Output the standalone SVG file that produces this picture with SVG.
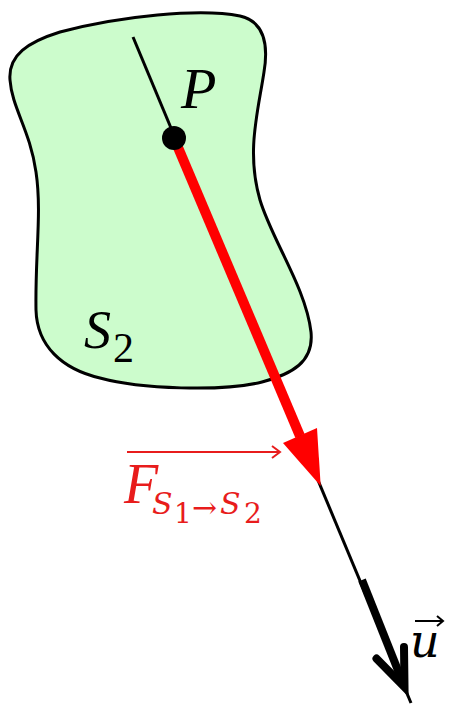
<svg xmlns="http://www.w3.org/2000/svg" width="474" height="714" viewBox="0 0 474 714">
<style>
.it{font-family:"Liberation Serif","DejaVu Serif",serif;font-style:italic}
.up{font-family:"Liberation Serif","DejaVu Serif",serif}
.dit{font-family:"DejaVu Serif","Liberation Serif",serif;font-style:italic}
.dup{font-family:"DejaVu Serif","Liberation Serif",serif}
.red{fill:#e81c1c}
</style>
<rect width="474" height="714" fill="#fff"/>
<g id="body-S2">
<path d="M10,80 C8,55 28,42 60,32 C120,16 200,8 240,16 C266,22 268,48 264,72 C258,112 246,152 260,200 C272,240 306,288 311,332 C314,362 292,374 262,382 C222,392 140,389 100,378 C62,369 37,346 36,310 C35,255 42,212 36,172 C30,130 12,108 10,80 Z" fill="#ccfccc" stroke="#000" stroke-width="3"/>
<text class="it" x="84" y="348" font-size="54">S</text>
<text class="up" x="113" y="362" font-size="42">2</text>
</g>
<g id="connectors">
<line x1="133" y1="37" x2="411" y2="703" stroke="#000" stroke-width="3"/>
<line x1="174" y1="138" x2="300" y2="436" stroke="#ff0000" stroke-width="10"/>
<polygon points="320.7,486 283,443 317,428" fill="#ff0000"/>
<line x1="362" y1="580" x2="403" y2="683" stroke="#000" stroke-width="8"/>
<polyline points="376.5,658.6 404.5,687 404,647" fill="none" stroke="#000" stroke-width="8" stroke-linejoin="miter" stroke-linecap="round"/>
</g>
<g id="point-P">
<circle cx="174" cy="138" r="12" fill="#000"/>
<text class="it" x="181" y="108" font-size="58">P</text>
</g>
<g id="label-F">
<line x1="127" y1="452" x2="280" y2="452" stroke="#e81c1c" stroke-width="2"/>
<polyline points="272,446 280,452 272,458" fill="none" stroke="#e81c1c" stroke-width="2"/>
<text class="it red" x="124" y="503" font-size="56">F</text>
<text class="dit red" x="152" y="514" font-size="30">S</text>
<text class="dup red" x="174" y="523" font-size="28">1</text>
<text class="dup red" x="192" y="518" font-size="30">→</text>
<text class="dit red" x="220" y="514" font-size="30">S</text>
<text class="dup red" x="244" y="523" font-size="28">2</text>
</g>
<g id="label-u">
<line x1="415" y1="621" x2="443" y2="621" stroke="#000" stroke-width="2"/>
<polyline points="437,616 443,621 437,626" fill="none" stroke="#000" stroke-width="2"/>
<text class="dit" x="410" y="657" font-size="46">u</text>
</g>
</svg>
